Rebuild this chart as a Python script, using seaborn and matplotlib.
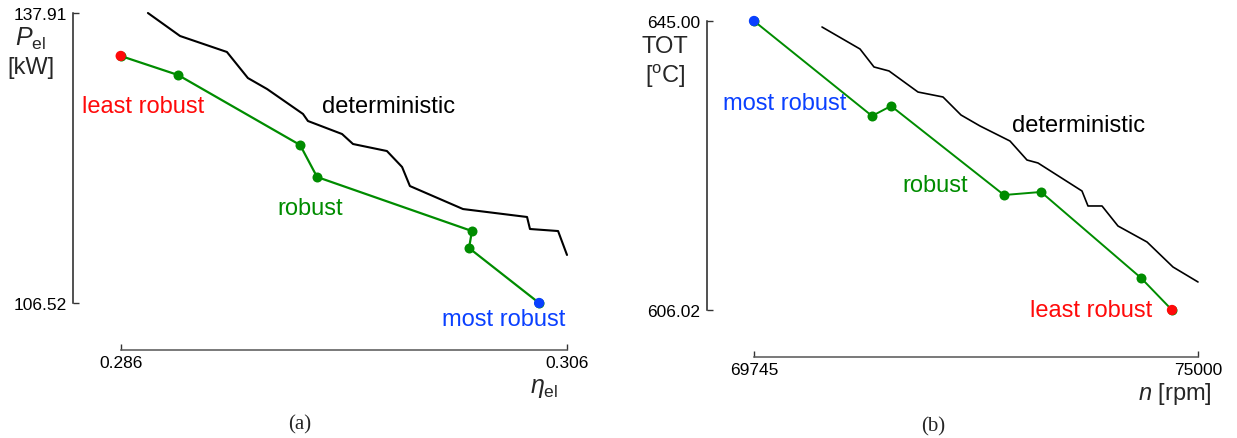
import numpy as np
import pandas as pd
import matplotlib
matplotlib.use("Agg")
import matplotlib.pyplot as plt
import seaborn as sns

# panel (a): efficiency vs electric power
det_a_eta = [0.28722, 0.28866, 0.29076, 0.29170, 0.29256, 0.29417, 0.29439, 0.29592,
             0.29641, 0.29793, 0.29861, 0.29896, 0.30134, 0.30421, 0.30434, 0.30560, 0.30600]
det_a_pel = [137.91, 135.42, 133.69, 130.87, 129.68, 126.98, 126.22, 124.81,
             123.73, 122.97, 121.24, 119.18, 116.69, 115.83, 114.53, 114.31, 111.72]
rob_a_eta = [0.28600, 0.28857, 0.29404, 0.29480, 0.30174, 0.30161, 0.30475]
rob_a_pel = [133.26, 131.20, 123.62, 120.16, 114.31, 112.47, 106.52]

# panel (b): shaft speed vs turbine outlet temperature
det_b_n = [70550, 71000, 71165, 71343, 71686, 71982, 72195, 72420, 72775,
           72976, 73106, 73627, 73698, 73864, 74053, 74397, 74704, 75000]
det_b_tot = [644.19, 641.22, 638.80, 638.26, 635.42, 634.75, 632.32, 630.84, 628.81,
             626.25, 625.85, 622.07, 620.05, 620.05, 617.35, 615.19, 611.82, 609.80]
rob_b_n = [69745, 71142, 71367, 72704, 73142, 74326, 74692]
rob_b_tot = [645.00, 632.19, 633.54, 621.53, 621.94, 610.34, 606.02]

xticks_a = [0.286, 0.306]
yticks_a = [106.52, 137.91]
xticks_b = [69745, 75000]
yticks_b = [606.02, 645.00]

GREEN = "#008c00"
RED = "#ff0a0a"
BLUE = "#0a40ff"

sns.set_theme(style="white")
plt.rcParams["font.family"] = ["Liberation Sans", "DejaVu Sans"]
plt.rcParams["mathtext.fontset"] = "custom"
plt.rcParams["mathtext.rm"] = "Liberation Sans"
plt.rcParams["mathtext.it"] = "Liberation Sans:italic"

W, H = 1237, 439
fig = plt.figure(figsize=(W / 100, H / 100), dpi=100)
ax_a = fig.add_axes([120.7 / W, 1 - 304 / H, 446.3 / W, 290 / H])
ax_b = fig.add_axes([754 / W, 1 - 311 / H, 444 / W, 289 / H])


def draw_panel(ax, det_x, det_y, rob_x, rob_y, first_col, last_col, det_lw, rob_lw):
    det = pd.DataFrame({"x": det_x, "y": det_y})
    rob = pd.DataFrame({"x": rob_x, "y": rob_y})
    sns.lineplot(data=det, x="x", y="y", sort=False, color="black", lw=det_lw, ax=ax)
    sns.lineplot(data=rob, x="x", y="y", sort=False, color=GREEN, lw=rob_lw,
                 marker="o", markersize=7.2, markeredgewidth=0, ax=ax)
    ends = rob.iloc[[0, -1]].copy()
    ends["c"] = [first_col, last_col]
    sns.scatterplot(data=ends, x="x", y="y", hue="c", palette={first_col: first_col, last_col: last_col},
                    s=55, linewidth=0, legend=False, ax=ax, zorder=5)
    for m in ax.lines + ax.collections:
        m.set_clip_on(False)
    ax.set_xlabel("")
    ax.set_ylabel("")
    for side in ["top", "right"]:
        ax.spines[side].set_visible(False)
    for side in ["left", "bottom"]:
        ax.spines[side].set_position(("outward", 34))
        ax.spines[side].set_linewidth(1.1)
    ax.spines["left"].set_color("#222222")
    ax.spines["bottom"].set_color("#555555")
    ax.tick_params(axis="both", direction="in", length=4, width=1.0, colors="#333333",
                   labelcolor="black", labelsize=12.5, left=True, bottom=True)
    ax.tick_params(axis="y", pad=5)
    ax.tick_params(axis="x", pad=3.5)


draw_panel(ax_a, det_a_eta, det_a_pel, rob_a_eta, rob_a_pel, RED, BLUE, 1.5, 1.6)
ax_a.set_xlim(xticks_a)
ax_a.set_ylim(yticks_a)
ax_a.set_xticks(xticks_a, [f"{v:.3f}" for v in xticks_a])
ax_a.set_yticks(yticks_a, [f"{v:.2f}" for v in yticks_a])

draw_panel(ax_b, det_b_n, det_b_tot, rob_b_n, rob_b_tot, BLUE, RED, 1.2, 1.4)
ax_b.set_xlim(xticks_b)
ax_b.set_ylim(yticks_b)
ax_b.set_xticks(xticks_b, [f"{v:d}" for v in xticks_b])
ax_b.set_yticks(yticks_b, [f"{v:.2f}" for v in yticks_b])

fs = 17
ax_a.text(0.28427, 127.84, "least robust", color=RED, fontsize=fs, ha="left", va="center")
ax_a.text(0.29502, 127.84, "deterministic", color="black", fontsize=fs, ha="left", va="center")
ax_a.text(0.29300, 116.80, "robust", color=GREEN, fontsize=fs, ha="left", va="center")
ax_a.text(0.30591, 104.79, "most robust", color=BLUE, fontsize=fs, ha="right", va="center")

ax_b.text(69378, 633.94, "most robust", color=BLUE, fontsize=fs, ha="left", va="center")
ax_b.text(72799, 630.97, "deterministic", color="black", fontsize=fs, ha="left", va="center")
ax_b.text(71497, 622.88, "robust", color=GREEN, fontsize=fs, ha="left", va="center")
ax_b.text(74456, 606.02, "least robust", color=RED, fontsize=fs, ha="right", va="center")


def ftext(px, py, s, **kw):
    fig.text(px / W, 1 - py / H, s, ha="center", va="center", **kw)


ftext(31, 39, r"$P_{\rm el}$", fontsize=18)
ftext(31, 68, "[kW]", fontsize=fs)
ftext(544, 388, r"$\eta_{\rm el}$", fontsize=18)
ftext(665, 47, "TOT", fontsize=fs)
ftext(665, 76, r"[$^{\rm o}$C]", fontsize=fs)
ftext(1175, 394, r"$n$ [rpm]", fontsize=fs)
ftext(300, 425, "(a)", fontsize=15, family="Liberation Serif")
ftext(933, 427, "(b)", fontsize=15, family="Liberation Serif")

fig.savefig("out.png", dpi=100, facecolor="white")
